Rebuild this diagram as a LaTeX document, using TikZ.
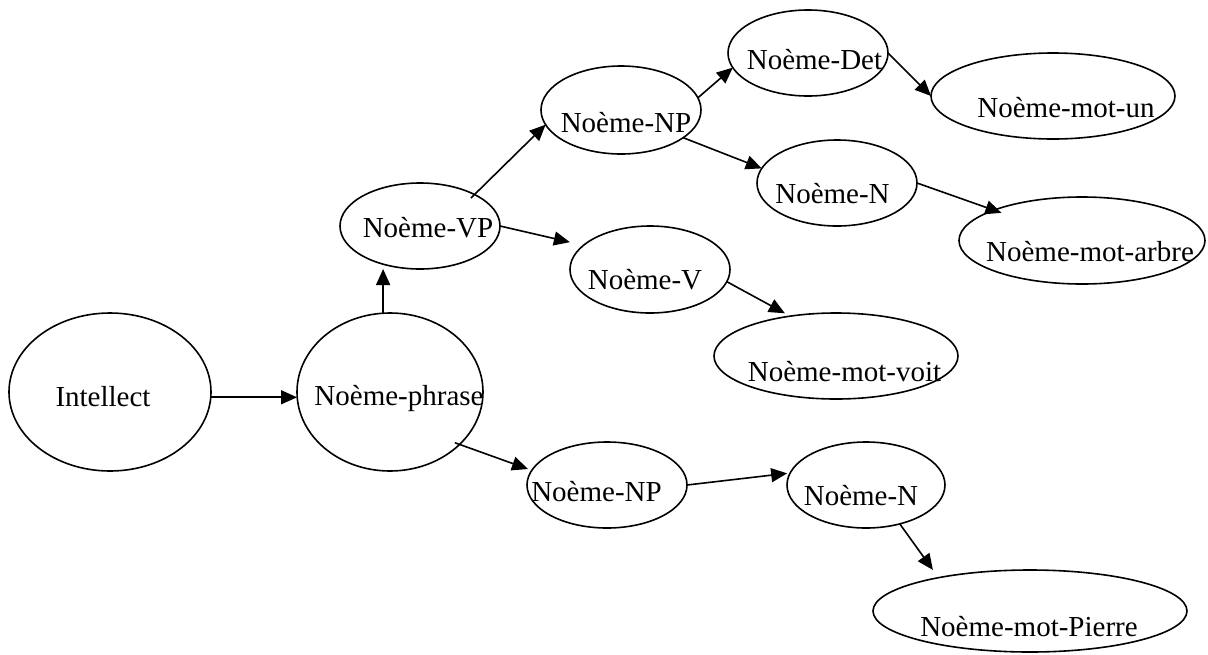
\documentclass[tikz,border=0pt]{standalone}
\usepackage{fontspec}
\setmainfont{Liberation Serif}
\usetikzlibrary{shapes.geometric,arrows.meta}
\begin{document}
\begin{tikzpicture}[x=1pt,y=-1pt,
  ell/.style={draw, ellipse, line width=1.6pt, inner sep=0pt, outer sep=0pt},
  lbl/.style={anchor=base, inner sep=0pt, font=\fontsize{29}{34}\selectfont},
  arr/.style={-{Triangle[length=16pt,width=14pt]}, line width=1.6pt}]
\useasboundingbox (0,0) rectangle (1208,654);
% ellipses
\node[ell, minimum width=202pt, minimum height=158pt] (intel) at (110,392) {};
\node[ell, minimum width=186pt, minimum height=158pt] (phrase) at (390,392) {};
\node[ell, minimum width=160pt, minimum height=86pt] (vp) at (420,226) {};
\node[ell, minimum width=160pt, minimum height=88pt] (np1) at (621,110) {};
\node[ell, minimum width=160pt, minimum height=86pt] (det) at (808,53) {};
\node[ell, minimum width=160pt, minimum height=86pt] (n1) at (837,183) {};
\node[ell, minimum width=244pt, minimum height=86pt] (un) at (1053,96) {};
\node[ell, minimum width=246pt, minimum height=87pt] (arbre) at (1082,240.5) {};
\node[ell, minimum width=160pt, minimum height=87pt] (v) at (650,269.5) {};
\node[ell, minimum width=244pt, minimum height=86pt] (voit) at (836,356) {};
\node[ell, minimum width=160pt, minimum height=86pt] (np2) at (607,485) {};
\node[ell, minimum width=158pt, minimum height=86pt] (n2) at (866,485) {};
\node[ell, minimum width=314pt, minimum height=82pt] (pierre) at (1030,611) {};
% labels
\node[lbl] (intelT) at (103,406.7) {Intellect};
\node[lbl] (phraseT) at (399,405) {Noème-phrase};
\node[lbl] (vpT) at (428,237) {Noème-VP};
\node[lbl] (np1T) at (626,132) {Noème-NP};
\node[lbl] (detT) at (814.5,69) {Noème-Det};
\node[lbl] (n1T) at (832.5,203) {Noème-N};
\node[lbl] (unT) at (1066,117) {Noème-mot-un};
\node[lbl] (arbreT) at (1090,261) {Noème-mot-arbre};
\node[lbl] (vT) at (645,289) {Noème-V};
\node[lbl] (voitT) at (844.5,381) {Noème-mot-voit};
\node[lbl] (np2T) at (596.5,501) {Noème-NP};
\node[lbl] (n2T) at (861,505) {Noème-N};
\node[lbl] (pierreT) at (1029,636) {Noème-mot-Pierre};
% connectors
\draw[arr] (intel.-3) -- (intel.-3 -| phrase.west);
\draw[arr] (phrase.95) -- (phrase.95 |- vp.south);
\draw[arr, shorten <=-5pt] (vp.30) -- (np1.191);
\draw[arr] (np1.9) -- (det.191);
\draw[arr] (np1.-24) -- (n1.169);
\draw[arr] (det.east) -- (un.west);
\draw[arr, shorten >=-8pt] (n1.east) -- (arbre.161);
\draw[arr, shorten >=14pt] (vp.east) -- (v.160);
\draw[arr, shorten >=6pt] (v.-9.5) -- (voit.139);
\draw[arr, shorten <=-5pt, shorten >=4pt] (phrase.-37.6) -- (np2.169);
\draw[arr, shorten >=3pt] (np2.east) -- (n2.171);
\draw[arr, shorten >=9.5pt] (n2.-49) -- (pierre.160.6);
\end{tikzpicture}
\end{document}
